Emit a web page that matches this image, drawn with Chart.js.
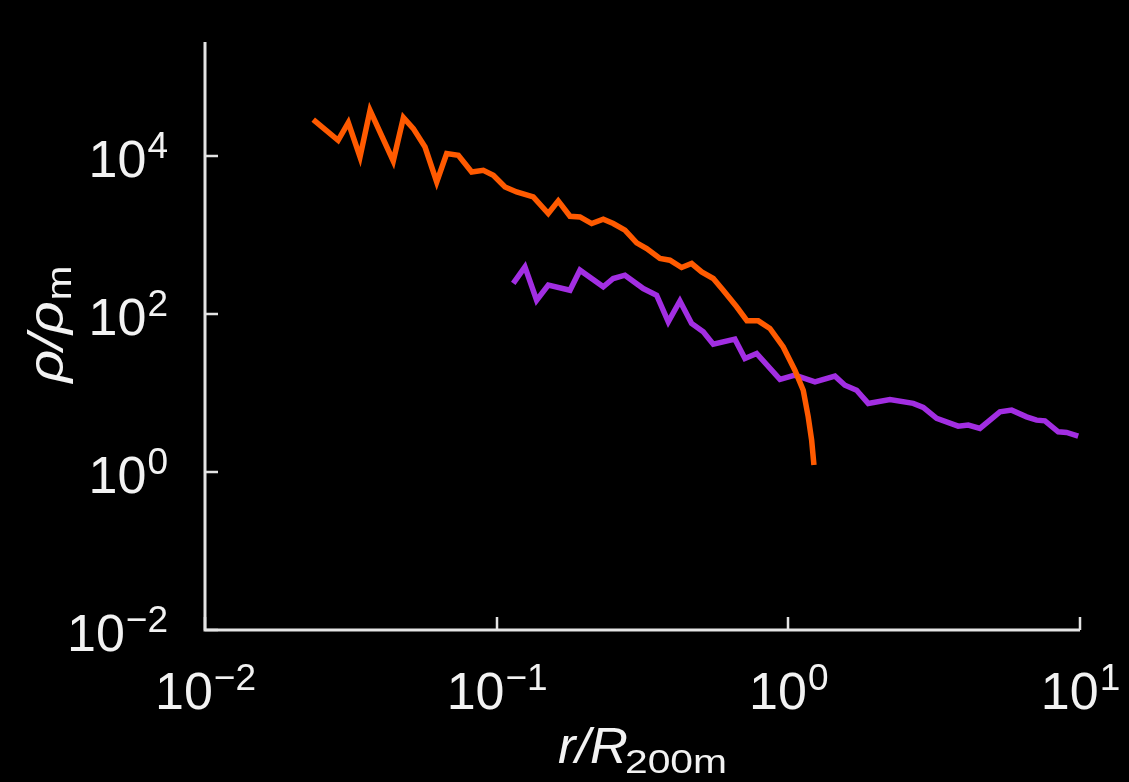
<!DOCTYPE html>
<html>
<head>
<meta charset="utf-8">
<script src="https://cdn.jsdelivr.net/npm/chart.js@4/dist/chart.umd.min.js"></script>
<style>
  html, body { margin: 0; padding: 0; background: #000; }
  #wrap { width: 1129px; height: 782px; }
</style>
</head>
<body>
<div id="wrap"><canvas id="profile" width="1129" height="782"></canvas></div>
<script>
// ============================================
// DATA
// ============================================
const orangeR = [
  0.0235, 0.0286, 0.0310, 0.0340, 0.0368, 0.0442, 0.0479, 0.0518, 0.0568, 0.0623,
  0.0674, 0.0739, 0.0821, 0.0900, 0.0974, 0.1068, 0.1171, 0.1335, 0.1503, 0.1626,
  0.1784, 0.1930, 0.2117, 0.2320, 0.2510, 0.2753, 0.3020, 0.3268, 0.3629, 0.3927,
  0.4306, 0.4660, 0.5044, 0.5528, 0.5980, 0.6648, 0.7212, 0.7886, 0.8647, 0.9605,
  1.053, 1.125, 1.170, 1.202, 1.224
];
const orangeRho = [
  29150, 15950, 26700, 9800, 38200, 8720, 30900, 22400, 13100, 4730,
  10800, 10300, 6330, 6650, 5750, 4090, 3530, 3050, 1880, 2720,
  1740, 1705, 1406, 1595, 1406, 1157, 800, 679, 507, 483,
  390, 438, 343, 283, 201, 124, 82.7, 82.3, 65.9, 38.5,
  19.5, 10.9, 5.01, 2.54, 1.23
];

const purpleR = [
  0.1140, 0.1250, 0.1371, 0.1503, 0.1784, 0.1930, 0.2320, 0.2510, 0.2753, 0.3181,
  0.3535, 0.3876, 0.4249, 0.4660, 0.5108, 0.5528, 0.6558, 0.7098, 0.7786, 0.9359,
  1.053, 1.234, 1.445, 1.563, 1.714, 1.879, 2.230, 2.681, 2.901, 3.225,
  3.823, 4.139, 4.538, 5.314, 5.829, 6.559, 7.099, 7.581, 8.42, 8.996,
  9.86
];
const purpleRho = [
  245, 397, 150, 233, 201, 361, 222, 283, 312, 211,
  174, 80, 147, 76.3, 59.7, 41.7, 48.3, 27.5, 31.8, 14.9,
  16.9, 13.9, 16.4, 12.6, 10.9, 7.41, 8.32, 7.41, 6.59, 4.78,
  3.82, 3.94, 3.57, 5.80, 6.09, 5.01, 4.55, 4.46, 3.24, 3.18,
  2.86
];

// tick values and exponent labels
const xTicks = [0.01, 0.1, 1, 10];
const xTickExp = ['\u22122', '\u22121', '0', '1'];
const yTicks = [0.01, 1, 100, 10000];
const yTickExp = ['\u22122', '0', '2', '4'];

// ============================================
// STYLE
// ============================================
const AXIS_COLOR = '#e4e4e4';
const TEXT_COLOR = '#f2f2f2';
const FONT = '"Liberation Sans", Arial, Helvetica, sans-serif';

function toPoints(xs, ys) {
  return xs.map((x, i) => ({ x: x, y: ys[i] }));
}

// "10" with a raised exponent, anchored either centred or right-aligned
function drawPower(ctx, exp, x, baseline, align) {
  ctx.font = '52px ' + FONT;
  const wBase = ctx.measureText('10').width;
  ctx.font = '37px ' + FONT;
  const wExp = ctx.measureText(exp).width;
  const left = align === 'right' ? x - wBase - wExp : x - (wBase + wExp) / 2;
  ctx.textAlign = 'left';
  ctx.textBaseline = 'alphabetic';
  ctx.font = '52px ' + FONT;
  ctx.fillText('10', left, baseline);
  ctx.font = '37px ' + FONT;
  ctx.fillText(exp, left + wBase + 1, baseline - 19);
}

// text stretched horizontally by sx (the figure's labels run wide)
function wideText(ctx, text, x, y, sx) {
  ctx.save();
  ctx.translate(x, y);
  ctx.scale(sx, 1);
  ctx.fillText(text, 0, 0);
  ctx.restore();
  return ctx.measureText(text).width * sx;
}

// ============================================
// PLUGINS
// ============================================
const blackBackground = {
  id: 'blackBackground',
  beforeDraw(chart) {
    const ctx = chart.ctx;
    ctx.save();
    ctx.fillStyle = '#000';
    ctx.fillRect(0, 0, chart.width, chart.height);
    ctx.restore();
  }
};

const axisDecor = {
  id: 'axisDecor',
  afterDraw(chart) {
    const { ctx, chartArea, scales } = chart;
    const xs = scales.x, ys = scales.y;
    ctx.save();

    // axis lines
    ctx.strokeStyle = AXIS_COLOR;
    ctx.lineWidth = 3;
    ctx.beginPath();
    ctx.moveTo(chartArea.left, chartArea.top);
    ctx.lineTo(chartArea.left, chartArea.bottom);
    ctx.lineTo(chartArea.right, chartArea.bottom);
    ctx.stroke();

    // inward ticks
    ctx.lineWidth = 2.5;
    ctx.beginPath();
    xTicks.forEach(v => {
      const px = Math.round(xs.getPixelForValue(v));
      ctx.moveTo(px, chartArea.bottom);
      ctx.lineTo(px, chartArea.bottom - 13);
    });
    yTicks.forEach(v => {
      const py = Math.round(ys.getPixelForValue(v));
      ctx.moveTo(chartArea.left, py);
      ctx.lineTo(chartArea.left + 13, py);
    });
    ctx.stroke();

    // tick labels
    ctx.fillStyle = TEXT_COLOR;
    xTicks.forEach((v, i) => {
      drawPower(ctx, xTickExp[i], xs.getPixelForValue(v), chartArea.bottom + 79, 'center');
    });
    yTicks.forEach((v, i) => {
      drawPower(ctx, yTickExp[i], 167, ys.getPixelForValue(v) + 21, 'right');
    });

    // x title: r/R_200m
    ctx.textAlign = 'left';
    ctx.textBaseline = 'alphabetic';
    const mainSx = 1.05, subSx = 1.2;
    ctx.font = 'italic 50px ' + FONT;
    const wMain = ctx.measureText('r/R').width * mainSx;
    ctx.font = '34px ' + FONT;
    const wSub = ctx.measureText('200m').width * subSx;
    const xl = (chartArea.left + chartArea.right) / 2 - (wMain + wSub - 3) / 2;
    ctx.font = 'italic 50px ' + FONT;
    wideText(ctx, 'r/R', xl, 763, mainSx);
    ctx.font = '34px ' + FONT;
    wideText(ctx, '200m', xl + wMain - 3, 773, subSx);

    // y title: rho/rho_m (rotated)
    ctx.translate(63, 324);
    ctx.rotate(-Math.PI / 2);
    const rhoSx = 1.14, mSx = 1.2;
    ctx.font = 'italic 50px ' + FONT;
    const wR = ctx.measureText('\u03C1/\u03C1').width * rhoSx;
    ctx.font = '35px ' + FONT;
    const wM = ctx.measureText('m').width * mSx;
    const yl = -(wR + wM + 1) / 2;
    ctx.font = 'italic 50px ' + FONT;
    wideText(ctx, '\u03C1/\u03C1', yl, 0, rhoSx);
    ctx.font = '35px ' + FONT;
    wideText(ctx, 'm', yl + wR + 1, 8, mSx);

    ctx.restore();
  }
};

// ============================================
// CHART
// ============================================
const hiddenAxis = {
  type: 'logarithmic',
  ticks: { display: false },
  grid: { display: false, drawTicks: false },
  border: { display: false }
};

new Chart(document.getElementById('profile'), {
  type: 'line',
  data: {
    datasets: [
      {
        label: 'orange',
        data: toPoints(orangeR, orangeRho),
        borderColor: '#ff5a00',
        borderWidth: 5.5,
        pointRadius: 0,
        tension: 0,
        fill: false
      },
      {
        label: 'purple',
        data: toPoints(purpleR, purpleRho),
        borderColor: '#a22ee2',
        borderWidth: 5.5,
        pointRadius: 0,
        tension: 0,
        fill: false
      }
    ]
  },
  options: {
    responsive: false,
    animation: false,
    devicePixelRatio: 1,
    layout: { padding: { left: 205, right: 49, top: 42, bottom: 152 } },
    plugins: { legend: { display: false }, tooltip: { enabled: false } },
    scales: {
      x: Object.assign({}, hiddenAxis, { min: 0.01, max: 10 }),
      y: Object.assign({}, hiddenAxis, { min: 0.01, max: 2.8e5 })
    }
  },
  plugins: [blackBackground, axisDecor]
});
</script>
</body>
</html>
